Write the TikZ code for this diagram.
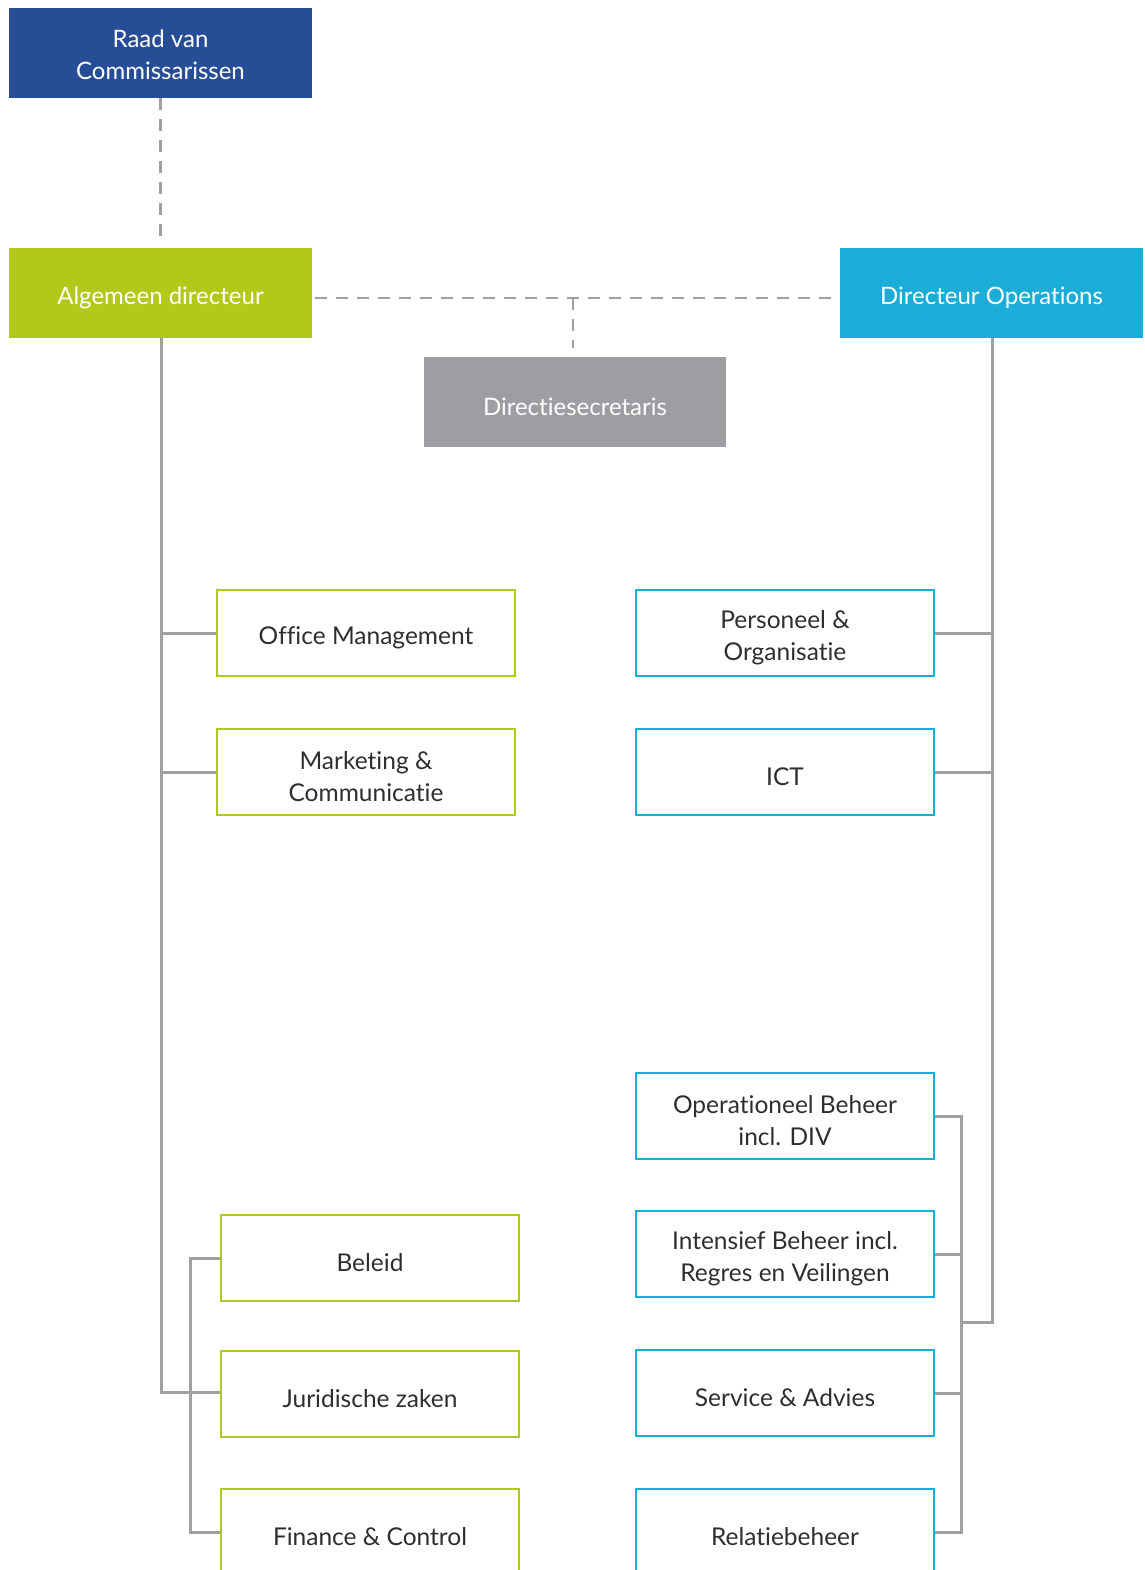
\documentclass[tikz,border=0pt]{standalone}
\usepackage{fontspec}
\setmainfont{Lato}[Ligatures={NoCommon,NoRare}]
\begin{document}
\definecolor{navy}{HTML}{264D96}
\definecolor{lime}{HTML}{B1C918}
\definecolor{sky}{HTML}{19ADD8}
\definecolor{slate}{HTML}{9D9EA1}
\definecolor{wire}{HTML}{A0A0A4}
\definecolor{ink}{HTML}{2E2E30}
% a strut that pushes the text block slightly below the box centre
\newcommand{\toplift}[1][27pt]{\rule{0pt}{#1}}
\begin{tikzpicture}[x=1pt,y=-1pt,
  headbox/.style={rectangle,minimum width=303pt,minimum height=90pt,inner sep=0pt,
    text=white,align=center,font=\fontsize{24}{32}\selectfont},
  unitbox/.style={rectangle,draw=#1,line width=2.6pt,minimum width=298pt,minimum height=86pt,
    inner sep=0pt,text=ink,align=center,font=\fontsize{24.5}{32}\selectfont},
  solidwire/.style={draw=wire,line width=3pt},
  dashwire/.style={draw=wire,line width=2.8pt,dash pattern=on 12pt off 9pt}]
\useasboundingbox (0,0) rectangle (1144,1570);
% top level
\node[headbox,fill=navy] (raad) at (160.5,53) {\toplift[22pt]Raad van\\Commissarissen};
\node[headbox,fill=lime] (alg) at (160.5,293) {\toplift Algemeen directeur};
\node[headbox,fill=sky] (ops) at (991.5,293) {\toplift Directeur Operations};
\node[headbox,fill=slate,minimum width=302pt] (sec) at (575,402) {\toplift Directiesecretaris};
% units under the general director
\node[unitbox=lime] (office) at (366,633) {\toplift Office Management};
\node[unitbox=lime] (mark) at (366,772) {\toplift Marketing \&\\Communicatie};
\node[unitbox=lime] (bel) at (370,1258) {\toplift Beleid};
\node[unitbox=lime] (jur) at (370,1394) {\toplift Juridische zaken};
\node[unitbox=lime] (fin) at (370,1532) {\toplift Finance \& Control};
% units under operations
\node[unitbox=sky] (po) at (785,633) {\toplift Personeel \&\\Organisatie};
\node[unitbox=sky] (ict) at (785,772) {\toplift ICT};
\node[unitbox=sky] (opb) at (785,1116) {\toplift Operationeel Beheer\\incl. DIV};
\node[unitbox=sky] (ib) at (785,1254) {\toplift Intensief Beheer incl.\\Regres en Veilingen};
\node[unitbox=sky] (sa) at (785,1393) {\toplift Service \& Advies};
\node[unitbox=sky] (rel) at (785,1532) {\toplift Relatiebeheer};
% dashed staff relations
\coordinate (algtop) at (160.5,240);
\draw[dashwire] (raad.south) -- (algtop);
\coordinate (hl) at (315,298);
\coordinate (hr) at (836,298);
\coordinate (hm) at (573,298);
\coordinate (secup) at (573,348);
\draw[dashwire] (hl) -- (hr);
\draw[dashwire] (hm) -- (secup);
% left hierarchy
\coordinate (lspine) at (161,1392);
\draw[solidwire] (161,338) -- (lspine) -- (jur.west |- lspine);
\draw[solidwire] (161,633) -- (office.west);
\draw[solidwire] (161,772) -- (mark.west);
\coordinate (lsub) at (190,0);
\draw[solidwire] (bel.west) -- (lsub |- bel.west) -- (lsub |- fin.west) -- (fin.west);
% right hierarchy
\coordinate (rspine) at (992,1322);
\coordinate (rsub) at (961,0);
\draw[solidwire] (992,338) -- (rspine) -- (rsub |- rspine);
\draw[solidwire] (po.east) -- (992,633);
\draw[solidwire] (ict.east) -- (992,772);
\draw[solidwire] (opb.east) -- (rsub |- opb.east) -- (rsub |- rel.east) -- (rel.east);
\draw[solidwire] (ib.east) -- (rsub |- ib.east);
\draw[solidwire] (sa.east) -- (rsub |- sa.east);
\end{tikzpicture}
\end{document}
